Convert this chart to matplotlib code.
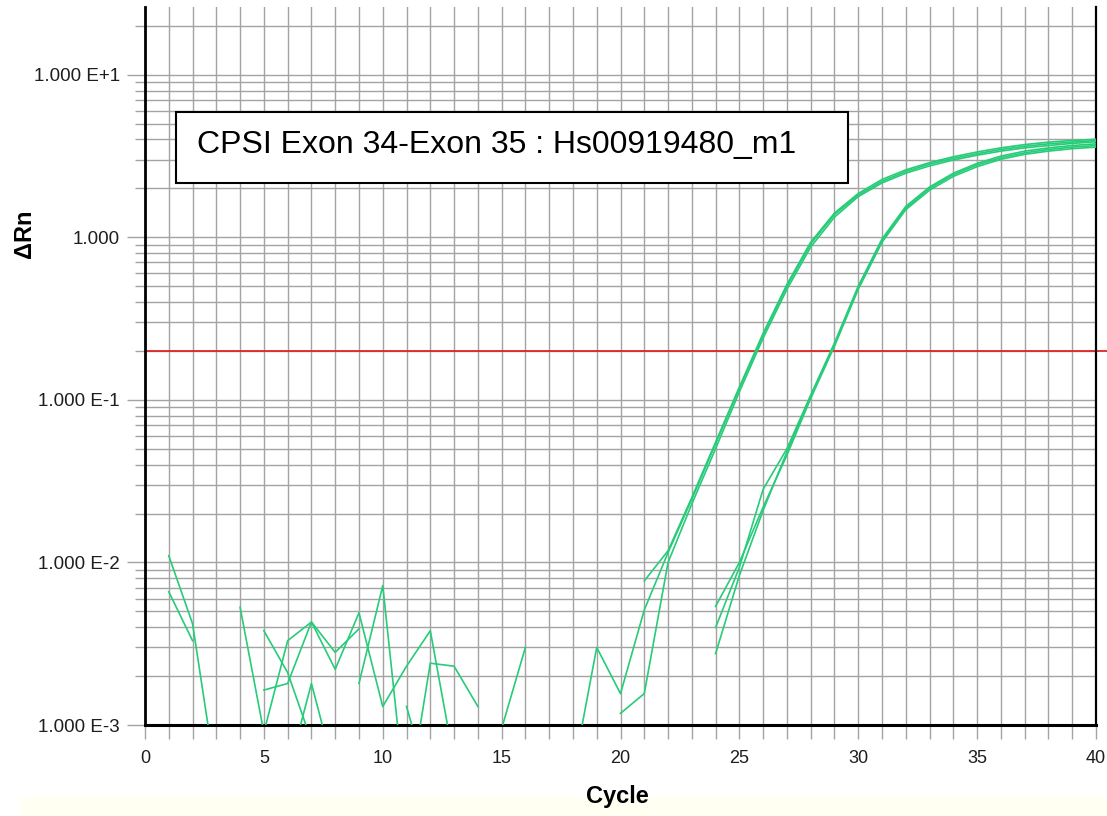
import numpy as np
import matplotlib
matplotlib.use("Agg")
import matplotlib.pyplot as plt
from matplotlib.patches import Rectangle
from matplotlib.ticker import FixedLocator, FuncFormatter, NullFormatter

plt.rcParams['font.family'] = ['Liberation Sans', 'DejaVu Sans']

nan = np.nan
cycles = np.arange(1, 41)

# Delta Rn per cycle for each well (nan = non-positive reading, not drawn on log axis)
well_a = [nan, nan, nan, nan, nan, 5.0e-4, 1.8e-3, 5.0e-4, nan, nan,
          3.0e-4, 2.4e-3, 2.3e-3, 1.3e-3, nan, nan, nan, nan, nan, nan,
          7.7e-3, 0.0118, 0.0251, 0.0550, 0.120, 0.257, 0.513, 0.933, 1.41, 1.86,
          2.27, 2.60, 2.88, 3.13, 3.35, 3.55, 3.72, 3.85, 3.94, 4.01]
well_b = [nan, nan, nan, nan, nan, nan, nan, nan, 1.8e-3, 7.2e-3,
          3.0e-4, nan, nan, nan, 9.5e-4, 3.0e-3, nan, 5.0e-4, 3.0e-3, 1.56e-3,
          5.1e-3, 0.0115, 0.0245, 0.0537, 0.118, 0.251, 0.501, 0.912, 1.38, 1.82,
          2.21, 2.54, 2.82, 3.06, 3.27, 3.47, 3.63, 3.76, 3.85, 3.94]
well_c = [nan, nan, nan, nan, nan, nan, nan, nan, nan, nan,
          1.3e-3, 4.0e-4, nan, nan, nan, nan, nan, nan, nan, 1.18e-3,
          1.56e-3, 0.0100, 0.0229, 0.0501, 0.112, 0.240, 0.479, 0.871, 1.33, 1.78,
          2.16, 2.48, 2.75, 2.99, 3.20, 3.39, 3.55, 3.67, 3.78, 3.87]
well_d = [0.0110, 4.2e-3, 4.6e-4, nan, 3.8e-3, 2.1e-3, 8.0e-4, nan, nan, nan,
          nan, nan, nan, nan, nan, nan, nan, nan, nan, nan,
          nan, nan, nan, 2.75e-3, 8.32e-3, 0.0209, 0.0479, 0.105, 0.219, 0.490,
          0.955, 1.51, 2.00, 2.43, 2.79, 3.09, 3.31, 3.47, 3.59, 3.67]
well_e = [6.6e-3, 3.3e-3, nan, 5.3e-3, 9.0e-4, 3.3e-3, 4.3e-3, 2.8e-3, 3.9e-3, nan,
          nan, nan, nan, nan, nan, nan, nan, nan, nan, nan,
          nan, nan, nan, 3.98e-3, 9.33e-3, 0.0282, 0.0501, 0.107, 0.224, 0.501,
          0.977, 1.55, 2.04, 2.48, 2.85, 3.16, 3.39, 3.55, 3.67, 3.76]
well_f = [nan, nan, nan, nan, 1.64e-3, 1.8e-3, 4.3e-3, 2.2e-3, 4.9e-3, 1.3e-3,
          2.3e-3, 3.8e-3, 6.0e-4, nan, nan, nan, nan, nan, nan, nan,
          nan, nan, nan, 5.37e-3, 0.0100, 0.0219, 0.0457, 0.102, 0.214, 0.479,
          0.933, 1.48, 1.95, 2.37, 2.72, 3.02, 3.24, 3.39, 3.51, 3.59]
wells = [well_a, well_b, well_c, well_d, well_e, well_f]

threshold = 0.2
x_ticks = [0, 5, 10, 15, 20, 25, 30, 35, 40]
y_ticks = [1e-3, 1e-2, 1e-1, 1.0, 10.0]
y_tick_labels = ['1.000 E-3', '1.000 E-2', '1.000 E-1', '1.000', '1.000 E+1']
title_text = 'CPSI Exon 34-Exon 35 : Hs00919480_m1'

W, H = 1107, 816
fig = plt.figure(figsize=(W / 100, H / 100), dpi=100)
fig.patch.set_facecolor('white')
fig.add_artist(Rectangle((20 / W, 0), (W - 20) / W, 19 / H, transform=fig.transFigure,
                         fc='#fffff2', ec='none', zorder=-5))

ax_left, ax_right, ax_top, ax_bottom = 145, 1096, 7.3, 725
ax = fig.add_axes([ax_left / W, (H - ax_bottom) / H,
                   (ax_right - ax_left) / W, (ax_bottom - ax_top) / H])
ax.set_yscale('log', nonpositive='mask')
ax.set_xlim(0, 40)
ax.set_ylim(1e-3, 26)

grid_col = '#a3a3a3'
ax.xaxis.set_major_locator(FixedLocator(x_ticks))
ax.xaxis.set_minor_locator(FixedLocator(range(0, 41)))
minor_y = [m * 10.0 ** k for k in range(-3, 2) for m in range(2, 10)]
ax.yaxis.set_major_locator(FixedLocator(y_ticks))
ax.yaxis.set_minor_locator(FixedLocator(minor_y))
label_map = dict(zip(y_ticks, y_tick_labels))
ax.yaxis.set_major_formatter(FuncFormatter(
    lambda v, p: min(((abs(np.log10(v) - np.log10(k)), t) for k, t in label_map.items()))[1]))
ax.yaxis.set_minor_formatter(NullFormatter())
ax.grid(which='both', color=grid_col, linewidth=1.0)
ax.set_axisbelow(True)

ax.tick_params(axis='x', which='both', direction='out', length=10, width=1.0,
               color=grid_col, labelsize=13, labelcolor='#1e1e1e', pad=8)
ax.tick_params(axis='y', which='major', direction='out', length=13, width=1.0,
               color=grid_col, labelsize=13.5, labelcolor='#1e1e1e', pad=5)
ax.tick_params(axis='y', which='minor', direction='out', length=7, width=1.0,
               color=grid_col)

ax.spines['top'].set_visible(False)
for side, lw in (('left', 2.0), ('bottom', 2.2), ('right', 1.6)):
    ax.spines[side].set_color('black')
    ax.spines[side].set_linewidth(lw)

for w in wells:
    ax.plot(cycles, np.array(w, dtype=float), color='#26cc78', linewidth=1.2, zorder=3)

ax.axhline(threshold, xmin=0, xmax=(W - ax_left) / (ax_right - ax_left),
           color='#e02424', linewidth=1.3, clip_on=False, zorder=2)

fig.add_artist(Rectangle((175.7 / W, 1 - 183.3 / H), (848.3 - 175.7) / W, (183.3 - 111.7) / H,
                         transform=fig.transFigure, fc='white', ec='black', lw=1.5, zorder=5))
fig.text(197 / W, 1 - 152.7 / H, title_text, fontsize=23, ha='left', va='baseline',
         color='black', zorder=6)

fig.text(25 / W, 1 - 234 / H, 'ΔRn', rotation=90, fontsize=17, fontweight='bold',
         ha='center', va='center')
fig.text(617 / W, 1 - 797 / H, 'Cycle', fontsize=17, fontweight='bold',
         ha='center', va='center')

fig.savefig('out.png', dpi=100, facecolor='white')
